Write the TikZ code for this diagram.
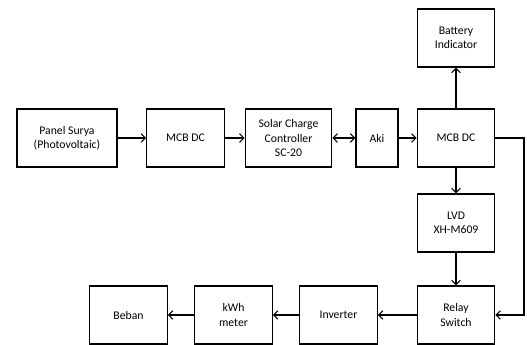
\documentclass[tikz,border=0pt]{standalone}
\usepackage{fontspec}
\setmainfont{Carlito}
\usetikzlibrary{arrows.meta}

\begin{document}
\begin{tikzpicture}[x=0.03cm, y=-0.03cm,
    block/.style={rectangle, draw, line width=1.1pt, minimum width=#1, minimum height=1.74cm, align=center, font=\fontsize{10}{12}\selectfont, inner sep=2pt},
    block/.default=2.32cm,
    arrow/.style={-{Straight Barb[length=1.3mm, width=2.6mm]}, line width=0.9pt},
    biarrow/.style={{Straight Barb[length=1.3mm, width=2.6mm]}-{Straight Barb[length=1.3mm, width=2.6mm]}, line width=0.9pt}
]
\useasboundingbox (0,0) rectangle (527,345);
% top row
\node[block=3cm] (panel) at (67,138) {Panel Surya\\(Photovoltaic)};
\node[block] (mcbin) at (185.5,138) {MCB DC};
\node[block=2.6cm] (scc) at (288.5,138) {Solar Charge\\Controller\\SC-20};
\node[block=1.26cm] (aki) at (377,138) {Aki};
\node[block] (mcbout) at (456,138) {MCB DC};
\node[block] (battery) at (456,38) {Battery\\Indicator};
\node[block] (lvd) at (456,223) {LVD\\XH-M609};
% bottom row
\node[block] (relay) at (456,315) {Relay\\Switch};
\node[block] (inverter) at (338.5,315) {Inverter};
\node[block] (kwh) at (233.5,315) {kWh\\meter};
\node[block] (beban) at (128.5,315) {Beban};
\coordinate (bypass) at (524,138);

\draw[arrow] (panel) -- (mcbin);
\draw[arrow] (mcbin) -- (scc);
\draw[biarrow] (scc) -- (aki);
\draw[arrow] (aki) -- (mcbout);
\draw[arrow] (mcbout) -- (battery);
\draw[arrow] (mcbout) -- (lvd);
\draw[arrow] (lvd) -- (relay);
\draw[arrow] (mcbout.east) -- (bypass) |- (relay.east);
\draw[arrow] (relay) -- (inverter);
\draw[arrow] (inverter) -- (kwh);
\draw[arrow] (kwh) -- (beban);
\end{tikzpicture}
\end{document}
